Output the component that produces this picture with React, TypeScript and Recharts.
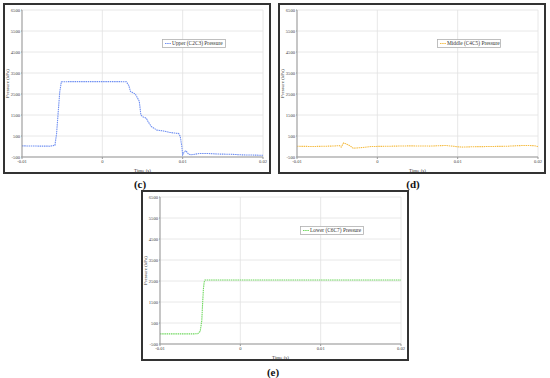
import React from 'react';
import { LineChart, Line, XAxis, YAxis, CartesianGrid, Legend } from 'recharts';

const timeTicks = [-0.01, 0, 0.01, 0.02];
const timeTickLabels = ['-0.01', '0', '0.01', '0.02'];
const pressureTicks = [-500, 500, 1500, 2500, 3500, 4500, 5500, 6500];

const upperTime = [-0.01, -0.008, -0.0065, -0.0059, -0.0057, -0.0055, -0.0053, -0.0051, -0.004, -0.002, 0, 0.002, 0.003, 0.0033, 0.0035, 0.0038, 0.0041, 0.0044, 0.0046, 0.0048, 0.005, 0.0053, 0.0055, 0.0057, 0.0061, 0.0068, 0.0076, 0.0084, 0.009, 0.0095, 0.0097, 0.0099, 0.01, 0.0102, 0.0104, 0.0107, 0.011, 0.0121, 0.013, 0.0145, 0.016, 0.0175, 0.019, 0.02];
const upperPressure = [30, 20, 15, 60, 600, 1600, 2600, 3080, 3090, 3090, 3090, 3090, 3080, 2900, 2620, 2560, 2500, 2300, 2150, 1500, 1420, 1380, 1330, 1180, 950, 780, 740, 670, 640, 620, 480, -10, -400, -250, -200, -350, -400, -330, -330, -360, -370, -400, -410, -420];

const middleTime = [-0.01, -0.008, -0.0057, -0.0047, -0.0045, -0.0042, -0.0038, -0.0034, -0.003, -0.0019, -0.0007, 0.001, 0.004, 0.0065, 0.0085, 0.0095, 0.0105, 0.012, 0.014, 0.016, 0.0175, 0.0185, 0.0195, 0.02];
const middlePressure = [10, 0, 20, 40, -30, 170, 110, 30, -80, -50, 0, 10, 30, 20, 50, 10, -30, -10, 0, 10, 40, 50, 40, 0];

const lowerTime = [-0.01, -0.008, -0.006, -0.0053, -0.005, -0.0048, -0.0047, -0.0046, -0.0045, -0.0044, 0, 0.01, 0.02];
const lowerPressure = [-20, -20, -20, -10, 100, 600, 1400, 2100, 2450, 2550, 2550, 2550, 2550];

const FONT = '"Liberation Serif", "DejaVu Serif", serif';
const W = 268;
const H = 171;

function LegendBox({ name, color }: { name: string; color: string }) {
  return (
    <svg width={64} height={9} style={{ display: 'block' }}>
      <rect x={0.5} y={0.5} width={63} height={8} fill="#fff" stroke="#b0b0b0" strokeWidth={0.8} />
      <line x1={3} y1={4.5} x2={9} y2={4.5} stroke={color} strokeWidth={1} strokeDasharray="1.5 0.7" />
      <text x={10} y={6.3} fontSize={5.4} fontFamily={FONT} fill="#333">{name}</text>
    </svg>
  );
}

function Panel({ left, top, time, pressure, name, color }: { left: number; top: number; time: number[]; pressure: number[]; name: string; color: string }) {
  const data = time.map((t, i) => ({ t, p: pressure[i] }));
  return (
    <>
      <div style={{ position: 'absolute', left, top, width: W, height: H, boxSizing: 'border-box', border: '2px solid #333' }} />
      <div style={{ position: 'absolute', left, top }}>
        <LineChart width={W} height={H} data={data} margin={{ top: 7, right: 8, left: 0, bottom: 0 }}>
          <CartesianGrid stroke="#e2e2e2" strokeWidth={0.8} />
          <XAxis
            dataKey="t"
            type="number"
            domain={[-0.01, 0.02]}
            ticks={timeTicks}
            interval={0}
            allowDataOverflow
            tickFormatter={(v: number) => timeTickLabels[timeTicks.indexOf(v)] ?? String(v)}
            tick={{ fontSize: 4.6, fill: '#444', fontFamily: FONT }}
            tickSize={2}
            tickMargin={1}
            stroke="#999"
            height={17}
            label={{ value: 'Time (s)', position: 'insideBottom', offset: 2, fontSize: 5, fill: '#333', fontFamily: FONT }}
          />
          <YAxis
            type="number"
            domain={[-500, 6500]}
            ticks={pressureTicks}
            interval={0}
            allowDataOverflow
            tick={{ fontSize: 4.6, fill: '#444', fontFamily: FONT }}
            tickSize={1}
            tickMargin={1}
            stroke="#999"
            width={19}
            label={{ value: 'Pressure (kPa)', angle: -90, position: 'insideLeft', offset: 4, fontSize: 5, fill: '#333', fontFamily: FONT, style: { textAnchor: 'middle' } }}
          />
          <Legend
            layout="vertical"
            align="center"
            verticalAlign="middle"
            wrapperStyle={{ position: 'absolute', left: 159, top: 36, width: 64, height: 9 }}
            content={() => <LegendBox name={name} color={color} />}
          />
          <Line
            type="linear"
            dataKey="p"
            stroke={color}
            strokeWidth={1.1}
            strokeDasharray="1.5 0.7"
            dot={false}
            isAnimationActive={false}
          />
        </LineChart>
      </div>
    </>
  );
}

const captionStyle: React.CSSProperties = {
  position: 'absolute',
  fontFamily: FONT,
  fontWeight: 'bold',
  fontSize: 11,
  color: '#111',
  transform: 'translate(-50%, -50%)',
  whiteSpace: 'nowrap',
};

export default function App() {
  return (
    <div style={{ position: 'fixed', left: 0, top: 0, width: 550, height: 378, background: '#fff', overflow: 'hidden' }}>
      <Panel left={3} top={3} time={upperTime} pressure={upperPressure} name="Upper (C2C3) Pressure" color="#6f8ff2" />
      <Panel left={278} top={3} time={middleTime} pressure={middlePressure} name="Middle (C4C5) Pressure" color="#f5bd45" />
      <Panel left={141} top={190} time={lowerTime} pressure={lowerPressure} name="Lower (C6C7) Pressure" color="#6fd85e" />
      <div style={{ ...captionStyle, left: 140, top: 183.5 }}>(c)</div>
      <div style={{ ...captionStyle, left: 413, top: 183.5 }}>(d)</div>
      <div style={{ ...captionStyle, left: 273, top: 372 }}>(e)</div>
    </div>
  );
}
